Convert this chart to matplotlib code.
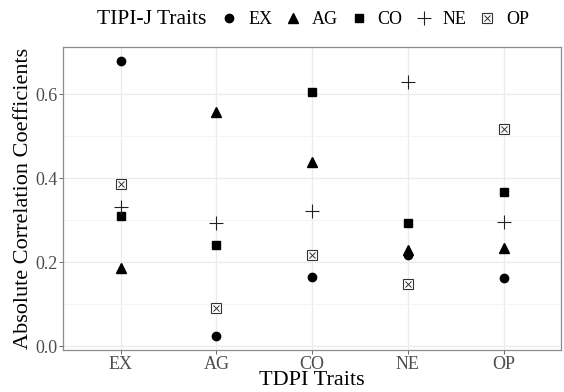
import matplotlib
matplotlib.use("Agg")
import matplotlib.pyplot as plt
from matplotlib.legend_handler import HandlerTuple
import numpy as np

plt.rcParams['font.family'] = ['Liberation Serif', 'DejaVu Serif']

tdpi_traits = ['EX', 'AG', 'CO', 'NE', 'OP']
tipi_traits = ['EX', 'AG', 'CO', 'NE', 'OP']

# absolute correlation for each TIPI-J trait, across TDPI traits
ex_vals = [0.679, 0.024, 0.164, 0.218, 0.162]
ag_vals = [0.186, 0.558, 0.439, 0.230, 0.233]
co_vals = [0.310, 0.240, 0.604, 0.294, 0.366]
ne_vals = [0.332, 0.293, 0.323, 0.630, 0.295]
op_vals = [0.387, 0.091, 0.217, 0.147, 0.517]

fig = plt.figure(figsize=(5.64, 3.92), dpi=100)
ax = fig.add_axes([0.112, 0.107, 0.883, 0.773])

x = np.arange(len(tdpi_traits))

h_ex, = ax.plot(x, ex_vals, 'o', color='black', ms=6, ls='none', zorder=3)
h_ag, = ax.plot(x, ag_vals, '^', color='black', ms=7, ls='none', zorder=3)
h_co, = ax.plot(x, co_vals, 's', color='black', ms=6, ls='none', zorder=3)
h_ne, = ax.plot(x, ne_vals, '+', color='#222222', ms=10, mew=0.8, ls='none', zorder=3)
h_op1, = ax.plot(x, op_vals, 's', mfc='white', mec='#333333', ms=6.5, mew=0.8, ls='none', zorder=3)
h_op2, = ax.plot(x, op_vals, 'x', color='#333333', ms=5, mew=0.7, ls='none', zorder=4)

ax.set_xlim(-0.6, 4.6)
ax.set_ylim(-0.009, 0.712)
ax.set_xticks(x)
ax.set_xticklabels(tdpi_traits)
ax.set_yticks([0.0, 0.2, 0.4, 0.6])
ax.set_yticklabels(['0.0', '0.2', '0.4', '0.6'])
ax.set_yticks([0.1, 0.3, 0.5], minor=True)
ax.tick_params(axis='y', which='minor', length=0)
ax.tick_params(axis='both', which='major', labelsize=13, colors='#4d4d4d', length=3, width=0.6, pad=1)
ax.grid(True, which='major', color='#ebebeb', lw=0.9)
ax.grid(True, which='minor', axis='y', color='#f3f3f3', lw=0.6)
ax.set_axisbelow(True)
for s in ax.spines.values():
    s.set_color('#8c8c8c')
    s.set_linewidth(0.9)

ax.set_xlabel('TDPI Traits', fontsize=16, labelpad=-1)
ax.set_ylabel('Absolute Correlation Coefficients', fontsize=16, labelpad=2)

fig.text(0.172, 0.949, 'TIPI-J Traits', fontsize=15.5, va='center', ha='left')
fig.legend([h_ex, h_ag, h_co, h_ne, (h_op1, h_op2)], tipi_traits,
           handler_map={tuple: HandlerTuple(ndivide=1, pad=0)},
           loc='center left', bbox_to_anchor=(0.392, 0.949), ncol=5,
           frameon=False, fontsize=13, handlelength=0.9, handletextpad=0.6,
           columnspacing=0.7, borderaxespad=0, borderpad=0)

fig.savefig('out.png', dpi=100)
